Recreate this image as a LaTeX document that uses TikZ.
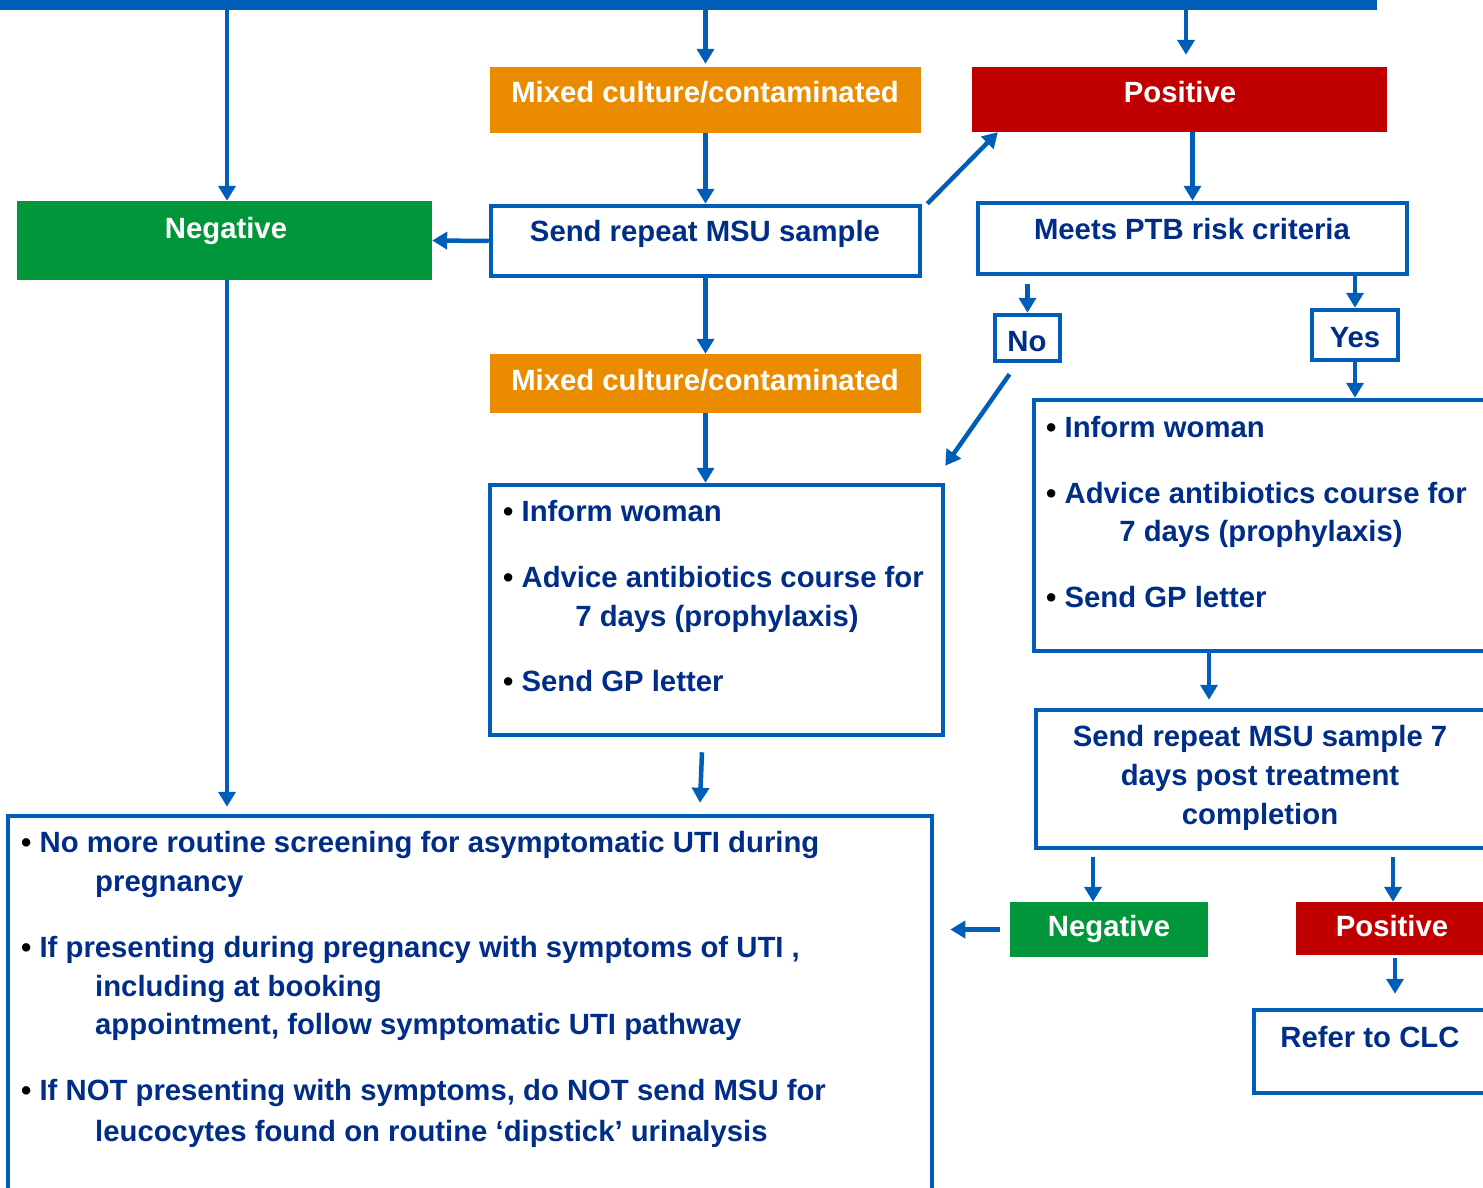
\documentclass[tikz,border=0pt]{standalone}
\usepackage{fontspec}
\setmainfont{Liberation Sans}
\usetikzlibrary{arrows.meta,calc}
\definecolor{ublue}{RGB}{0,94,184}
\definecolor{navy}{RGB}{0,45,135}
\definecolor{uorange}{RGB}{235,139,0}
\definecolor{ured}{RGB}{192,0,0}
\definecolor{ugreen}{RGB}{0,150,57}
\newcommand{\bul}{{\color{black}\textbullet}\ }
\tikzset{
  every node/.style={font=\bfseries\fontsize{29.3}{35}\selectfont},
  colbox/.style={fill=#1,inner sep=0pt},
  linebox/.style={draw=ublue,line width=4.5pt,inner sep=0pt},
  wtxt/.style={text=white,inner sep=0pt,anchor=base},
  btxt/.style={text=navy,inner sep=0pt,anchor=base},
  bl/.style={btxt,anchor=base west},
  arr/.style={draw=ublue,line width=4.5pt,-{Triangle[length=15pt,width=17pt]}}
}
\begin{document}
\begin{tikzpicture}[x=1pt,y=-1pt]
\useasboundingbox(0,0)rectangle(1483,1188);
\clip(0,0)rectangle(1483,1188);
\node[colbox=ublue,minimum width=1377pt,minimum height=10pt,anchor=north west](bar)at(0,0){};
% coloured result boxes
\node[colbox=ugreen,minimum width=415pt,minimum height=79pt](neg1)at(224.5,240.5){};
\node[colbox=uorange,minimum width=431pt,minimum height=66pt](mix1)at(705.5,100){};
\node[colbox=ured,minimum width=415pt,minimum height=65pt](pos1)at(1179.5,99.5){};
\node[colbox=uorange,minimum width=431pt,minimum height=59pt](mix2)at(705.5,383.5){};
\node[colbox=ugreen,minimum width=198pt,minimum height=55pt](neg2)at(1109,929.5){};
\node[colbox=ured,minimum width=194pt,minimum height=53pt](pos2)at(1393,928.5){};
\node[wtxt](negtxt)at(226,238){Negative};
\node[wtxt](mix1txt)at(705,103){Mixed culture/contaminated};
\node[wtxt](pos1txt)at(1180,103){Positive};
\node[wtxt](mix2txt)at(705,390){Mixed culture/contaminated};
\node[wtxt](neg2txt)at(1109,936){Negative};
\node[wtxt](pos2txt)at(1392,936){Positive};
% outlined boxes
\node[linebox,minimum width=429pt,minimum height=70pt](rep)at(705.5,241){};
\node[linebox,minimum width=429pt,minimum height=71pt](ptb)at(1192.5,238.5){};
\node[linebox,minimum width=65pt,minimum height=46pt](no)at(1027.5,338){};
\node[linebox,minimum width=86pt,minimum height=50pt](yes)at(1355,335){};
\node[linebox,minimum width=466pt,minimum height=251pt](infoR)at(1267,525.5){};
\node[linebox,minimum width=453pt,minimum height=250pt](infoM)at(716.5,610){};
\node[linebox,minimum width=464pt,minimum height=138pt](rep7)at(1268,779){};
\node[linebox,minimum width=246pt,minimum height=83pt](clc)at(1377,1051.5){};
\node[linebox,minimum width=924pt,minimum height=394pt](fin)at(470,1013){};
\node[btxt](reptxt)at(705,241){Send repeat MSU sample};
\node[btxt](ptbtxt)at(1192,239){Meets PTB risk criteria};
\node[btxt](notxt)at(1027,351){No};
\node[btxt](yestxt)at(1355,347){Yes};
\node[bl](r1)at(1046,437){\bul Inform woman};
\node[bl](r2)at(1046,503){\bul Advice antibiotics course for};
\node[btxt](r3)at(1261,541){7 days (prophylaxis)};
\node[bl](r4)at(1046,607){\bul Send GP letter};
\node[bl](m1)at(503,521){\bul Inform woman};
\node[bl](m2)at(503,587){\bul Advice antibiotics course for};
\node[btxt](m3)at(717,626){7 days (prophylaxis)};
\node[bl](m4)at(503,691){\bul Send GP letter};
\node[btxt](s1)at(1260,746){Send repeat MSU sample 7};
\node[btxt](s2)at(1260,785){days post treatment};
\node[btxt](s3)at(1260,824){completion};
\node[btxt](clctxt)at(1370,1047){Refer to CLC};
\node[bl](f1)at(21,852){\bul No more routine screening for asymptomatic UTI during};
\node[bl](f2)at(95,891){pregnancy};
\node[bl](f3)at(21,957){\bul If presenting during pregnancy with symptoms of UTI ,};
\node[bl](f4)at(95,996){including at booking};
\node[bl](f5)at(95,1034){appointment, follow symptomatic UTI pathway};
\node[bl](f6)at(21,1100){\bul If NOT presenting with symptoms, do NOT send MSU for};
\node[bl](f7)at(95,1141){leucocytes found on routine ‘dipstick’ urinalysis};
% connectors
\draw[arr]([xshift=2.5pt]bar.south-|neg1.north)--([xshift=2.5pt]neg1.north);
\draw[arr](bar.south-|mix1.north)--([yshift=3pt]mix1.north);
\draw[arr]([xshift=6.5pt]bar.south-|pos1.north)--([xshift=6.5pt,yshift=12pt]pos1.north);
\draw[arr](mix1.south)--(mix1.south|-rep.north);
\draw[arr](rep.west)--(neg1.east);
\draw[arr]([xshift=5pt]rep.north east)--([xshift=26pt]pos1.south west);
\draw[arr](ptb.north|-pos1.south)--(ptb.north);
\draw[arr]([yshift=-8pt]no.north|-ptb.south)--(no.north);
\draw[arr](yes.north|-ptb.south)--(yes.north);
\draw[arr](yes.south)--(yes.south|-infoR.north);
\draw[arr]([xshift=-18pt,yshift=-11pt]no.south)--([yshift=17pt]infoM.north east);
\draw[arr](rep.south)--(rep.south|-mix2.north);
\draw[arr](mix2.south)--(mix2.south|-infoM.north);
\draw[arr]([xshift=-14.5pt,yshift=-15pt]infoM.south)--([xshift=230pt,yshift=11pt]fin.north);
\draw[arr]([xshift=2.5pt]neg1.south)--([xshift=2.5pt,yshift=7pt]neg1.south|-fin.north);
\draw[arr]([xshift=-58pt]infoR.south)--([xshift=-59pt,yshift=8pt]rep7.north);
\draw[arr]([xshift=-16pt,yshift=-7pt]rep7.south-|neg2.north)--([xshift=-16pt]neg2.north);
\draw[arr]([yshift=-7pt]rep7.south-|pos2.north)--(pos2.north);
\draw[arr]([xshift=2pt,yshift=-3pt]pos2.south)--([xshift=2pt,yshift=14pt]pos2.south|-clc.north);
\draw[arr]([xshift=-10pt]neg2.west)--([xshift=16pt]neg2.west-|fin.east);
\end{tikzpicture}
\end{document}
